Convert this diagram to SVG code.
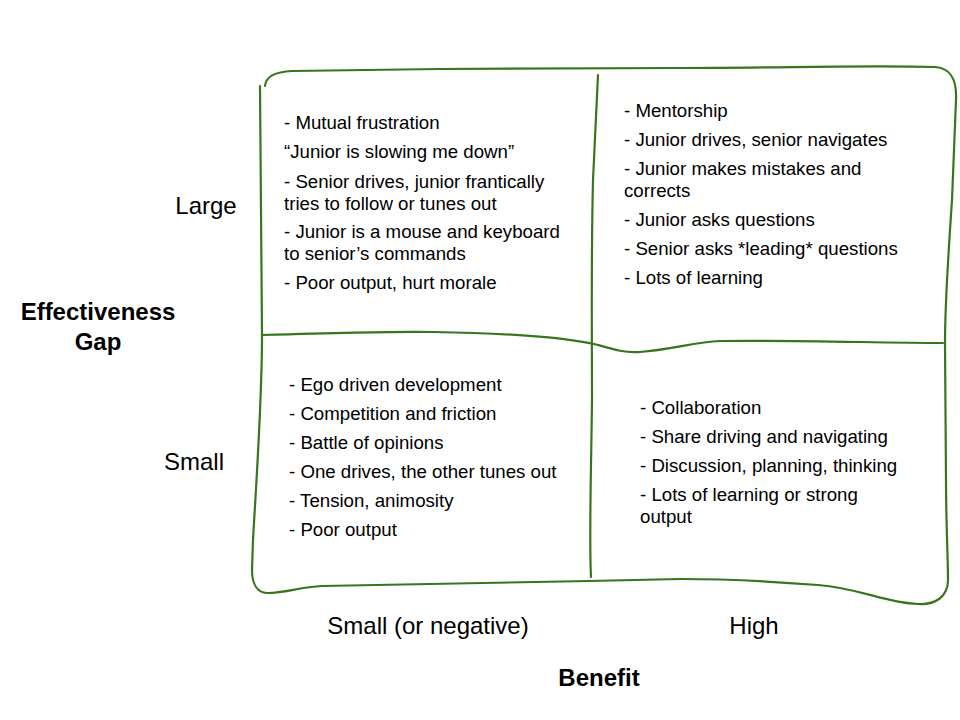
<svg xmlns="http://www.w3.org/2000/svg" width="960" height="720" viewBox="0 0 960 720">
<style>
.ln{fill:none;stroke:#38761d;stroke-width:2.2;stroke-linecap:round;stroke-linejoin:round}
.t{font-family:"Liberation Sans",Arial,sans-serif;font-size:18.67px;fill:#000}
.ax{font-family:"Liberation Sans",Arial,sans-serif;font-size:24px;fill:#000}
.b{font-family:"Liberation Sans",Arial,sans-serif;font-size:24px;font-weight:bold;fill:#000}
</style>
<rect width="960" height="720" fill="#fff"/>
<g id="grid">
<path class="ln" d="M260,86 L262,335 C262,400 257,470 253,540 L252,570 C252,585 258,593 268,593 C285,593 300,587 322,586 L589,581 L680,579 C730,579 780,582 818,585 C860,588 885,603 918,604 C935,605 948,597 948,580 C948,560 946,520 946,480 L945,343 C945,300 948,260 952,200 L956,100 C957,78 950,68 935,67 C860,65 780,68 680,68 C600,68 520,68 440,69 L292,71 C275,72 266,76 265,86"/>
<path class="ln" d="M598,75 L593,180 C591,260 592,340 592,400 C591,480 589,540 591,577"/>
<path class="ln" d="M262,335 C330,333 400,331 433,332 C500,333 560,336 598,345 C615,350 625,353 640,352 C670,350 695,342 720,341 C800,340 880,343 943,343"/>
</g>
<g id="axis-y">
<text class="ax" x="206" y="214" text-anchor="middle">Large</text>
<text class="ax" x="194" y="470" text-anchor="middle">Small</text>
<text class="b" x="98" y="320" text-anchor="middle">Effectiveness</text>
<text class="b" x="98" y="350" text-anchor="middle">Gap</text>
</g>
<g id="axis-x">
<text class="ax" x="428" y="634" text-anchor="middle">Small (or negative)</text>
<text class="ax" x="754" y="634" text-anchor="middle">High</text>
<text class="b" x="599" y="686" text-anchor="middle">Benefit</text>
</g>
<g id="q-large-small">
<text class="t" x="284" y="129">- Mutual frustration</text>
<text class="t" x="284" y="158">“Junior is slowing me down”</text>
<text class="t" x="284" y="188">- Senior drives, junior frantically</text>
<text class="t" x="284" y="210">tries to follow or tunes out</text>
<text class="t" x="284" y="238">- Junior is a mouse and keyboard</text>
<text class="t" x="284" y="260">to senior’s commands</text>
<text class="t" x="284" y="289">- Poor output, hurt morale</text>
</g>
<g id="q-large-high">
<text class="t" x="624" y="117">- Mentorship</text>
<text class="t" x="624" y="146">- Junior drives, senior navigates</text>
<text class="t" x="624" y="175">- Junior makes mistakes and</text>
<text class="t" x="624" y="197">corrects</text>
<text class="t" x="624" y="226">- Junior asks questions</text>
<text class="t" x="624" y="255">- Senior asks *leading* questions</text>
<text class="t" x="624" y="284">- Lots of learning</text>
</g>
<g id="q-small-small">
<text class="t" x="289" y="391">- Ego driven development</text>
<text class="t" x="289" y="420">- Competition and friction</text>
<text class="t" x="289" y="449">- Battle of opinions</text>
<text class="t" x="289" y="478">- One drives, the other tunes out</text>
<text class="t" x="289" y="507">- Tension, animosity</text>
<text class="t" x="289" y="536">- Poor output</text>
</g>
<g id="q-small-high">
<text class="t" x="640" y="414">- Collaboration</text>
<text class="t" x="640" y="443">- Share driving and navigating</text>
<text class="t" x="640" y="472">- Discussion, planning, thinking</text>
<text class="t" x="640" y="501">- Lots of learning or strong</text>
<text class="t" x="640" y="523">output</text>
</g>
</svg>
